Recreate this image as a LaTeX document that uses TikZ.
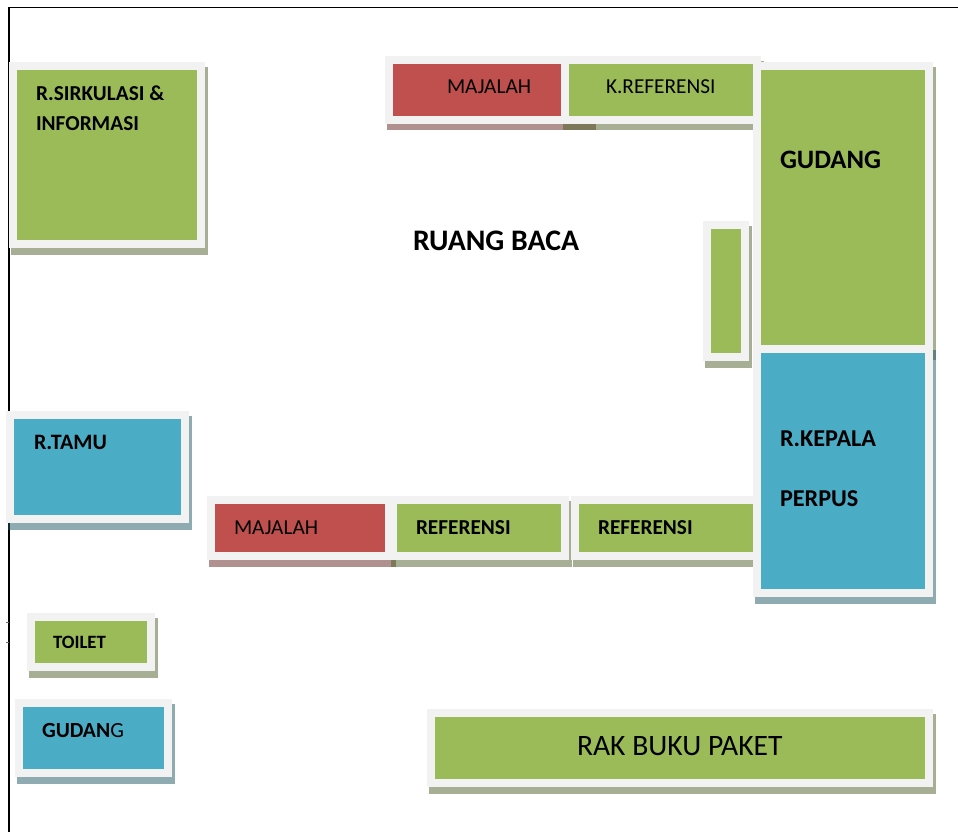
\documentclass[tikz,border=0pt]{standalone}
\usepackage{fontspec}
\setmainfont{Carlito}
\definecolor{roomgreen}{HTML}{9BBB59}
\definecolor{roomblue}{HTML}{4BACC6}
\definecolor{roomred}{HTML}{C0504D}
\definecolor{roomedge}{HTML}{F2F2F2}
\definecolor{shgreen}{HTML}{4E6128}
\definecolor{shblue}{HTML}{205867}
\definecolor{shred}{HTML}{632423}
\tikzset{
  frameline/.style={draw=black,line width=1.8pt},
  label/.style={anchor=base west,inner sep=0pt,outer sep=0pt,text=black},
  lb/.style={label,font=\fontsize{21.3}{21.3}\selectfont\bfseries},
  lr/.style={label,font=\fontsize{21.3}{21.3}\selectfont},
}
% \roombox{name}{x0}{y0}{x1}{y1}{fill}{shadow}: inner rectangle, 8px edge, offset shadow
\newcommand{\roombox}[7]{%
  \fill[#7,opacity=0.5] (#2-6,#3-3) rectangle (#4+11,#5+14.5);
  \fill[roomedge] (#2-8,#3-8) rectangle (#4+8,#5+8);
  \fill[#6] (#2,#3) coordinate (#1-nw) rectangle (#4,#5) coordinate (#1-se);
}
\begin{document}
\begin{tikzpicture}[x=1pt,y=-1pt]
\useasboundingbox (0,0) rectangle (958,832);
\fill[white] (0,0) rectangle (958,832);
\draw[frameline] (958,7.5) -- (9,7.5) -- (9,832);
\draw[black!60,line width=0.5pt] (6,622) -- (9,622) (6,642) -- (9,642);

\roombox{sirk}{17}{70}{197}{240}{roomgreen}{shgreen}
\roombox{maj1}{393}{64}{585}{116}{roomred}{shred}
\roombox{kref}{569}{64}{753}{116}{roomgreen}{shgreen}
\roombox{rak}{435}{717}{925}{779}{roomgreen}{shgreen}
\roombox{tamu}{14}{419}{181}{515}{roomblue}{shblue}
\roombox{maj2}{215}{504}{385}{552}{roomred}{shred}
\roombox{ref1}{397}{504}{561}{552}{roomgreen}{shgreen}
\roombox{ref2}{579}{504}{760}{552}{roomgreen}{shgreen}
\roombox{toil}{35}{621}{147}{663}{roomgreen}{shgreen}
\roombox{gud2}{23}{707}{164}{769}{roomblue}{shblue}
\roombox{small}{711}{229}{741}{353}{roomgreen}{shgreen}
\roombox{gud1}{761}{70}{925}{345}{roomgreen}{shgreen}
\roombox{kepala}{761}{353}{925}{589}{roomblue}{shblue}

\node[lb] (t1) at (36,101) {R.SIRKULASI \&};
\node[lb] (t2) at (36,131) {INFORMASI};
\node[lr] (t3) at (447,94) {MAJALAH};
\node[lr] (t4) at (606,94) {K.REFERENSI};
\node[label,font=\fontsize{26.6}{26.6}\selectfont\bfseries] (t5) at (780,168.5) {GUDANG};
\node[label,font=\fontsize{29.8}{29.8}\selectfont\bfseries] (t6) at (413,250) {RUANG BACA};
\node[label,font=\fontsize{24.2}{24.2}\selectfont\bfseries] (t7) at (780,446) {R.KEPALA};
\node[label,font=\fontsize{24.2}{24.2}\selectfont\bfseries] (t8) at (780,506) {PERPUS};
\node[label,font=\fontsize{22}{22}\selectfont\bfseries] (t9) at (34,449.5) {R.TAMU};
\node[lr] (t10) at (234,534) {MAJALAH};
\node[lb] (t11) at (416,534) {REFERENSI};
\node[lb] (t12) at (598,534) {REFERENSI};
\node[label,font=\fontsize{18.8}{18.8}\selectfont\bfseries] (t13) at (53,648) {TOILET};
\node[label,font=\fontsize{21.6}{21.6}\selectfont\bfseries] (t14) at (42,737) {GUDAN\mdseries G};
\node[label,font=\fontsize{29.6}{29.6}\selectfont] (t15) at (577,755) {RAK BUKU PAKET};
\end{tikzpicture}
\end{document}
